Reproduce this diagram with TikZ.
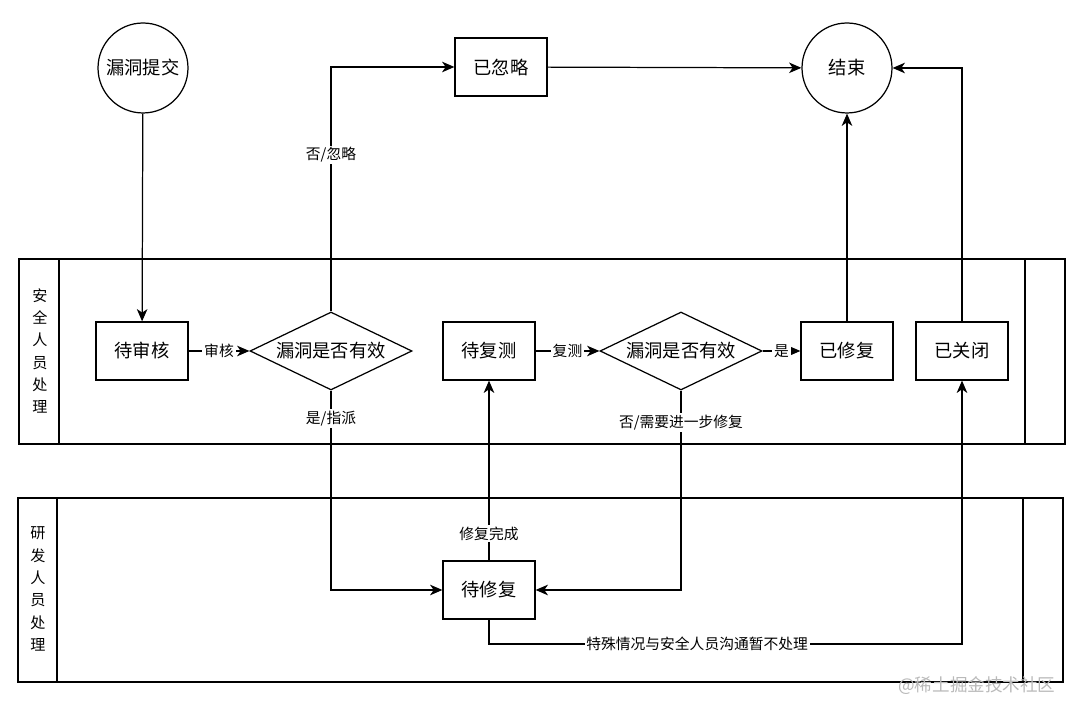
\documentclass[tikz,border=0pt]{standalone}
\usepackage{fontspec}
\newfontfamily\cjk{Noto Sans CJK SC}
\usetikzlibrary{arrows.meta, positioning, shapes.geometric}

\tikzset{
  state/.style={draw, minimum width=1.84cm, minimum height=1.16cm, inner sep=0pt},
  terminal/.style={draw, circle, minimum size=1.8cm, inner sep=0pt},
  check/.style={draw, diamond, aspect=2, minimum width=3.24cm, minimum height=1.56cm, inner sep=0pt},
  elabel/.style={fill=white, inner sep=1pt, font=\cjk\fontsize{8.4}{10}\selectfont},
  lanelabel/.style={align=center, inner sep=0pt, font=\cjk\fontsize{8.6}{12.7}\selectfont}
}

\begin{document}
\begin{tikzpicture}[x=0.02cm, y=-0.02cm, line width=0.7pt, >={Stealth[length=7pt, width=6pt, inset=2pt]}, every node/.style={font=\cjk\fontsize{10.4}{12}\selectfont}]
\useasboundingbox (0,0) rectangle (1080,715);
% swimlanes
\draw (19,259) rectangle (1065,444);
\draw (59,259) -- (59,444) (1025,259) -- (1025,444);
\node[lanelabel] (lanesec) at (40,351) {安\\全\\人\\员\\处\\理};
\draw (18,498) rectangle (1063,682);
\draw (57,498) -- (57,682) (1023,498) -- (1023,682);
\node[lanelabel] (lanedev) at (38,589) {研\\发\\人\\员\\处\\理};
% states
\node[terminal] (submit) at (143,68) {漏洞提交};
\node[state] (ignored) at (501,67) {已忽略};
\node[terminal] (done) at (847,68) {结束};
\node[state] (review) at (142,351) {待审核};
\node[check] (valid1) at (331,351) {漏洞是否有效};
\node[state] (retest) at (489,351) {待复测};
\node[check] (valid2) at (681,351) {漏洞是否有效};
\node[state] (fixed) at (847,351) {已修复};
\node[state] (closed) at (962,351) {已关闭};
\node[state] (tofix) at (489,590) {待修复};
\coordinate (bend) at (489,644);
% flow
\draw[->] (submit) -- (review);
\draw[->] (review) -- node[elabel]{审核} (valid1);
\draw[->] (valid1.north) |- node[elabel, pos=0.32]{否/忽略} (ignored);
\draw[->] (ignored) -- (done);
\draw[->] (valid1.south) |- node[elabel, pos=0.07]{是/指派} (tofix);
\draw[->] (retest) -- node[elabel]{复测} (valid2);
\draw[->] (valid2) -- node[elabel]{是} (fixed);
\draw[->] (fixed) -- (done);
\draw[->] (closed.north) |- (done.east);
\draw[->] (valid2.south) |- node[elabel, pos=0.08]{否/需要进一步修复} (tofix.east);
\draw[->] (tofix) -- node[elabel, pos=0.15]{修复完成} (retest);
\draw[->] (tofix.south) -- (bend) -| node[elabel, pos=0.22]{特殊情况与安全人员沟通暂不处理} (closed.south);
% watermark
\node[text=gray!55, font=\cjk\fontsize{10}{12}\selectfont, anchor=east] (mark) at (1062,686) {@稀土掘金技术社区};
\end{tikzpicture}
\end{document}
